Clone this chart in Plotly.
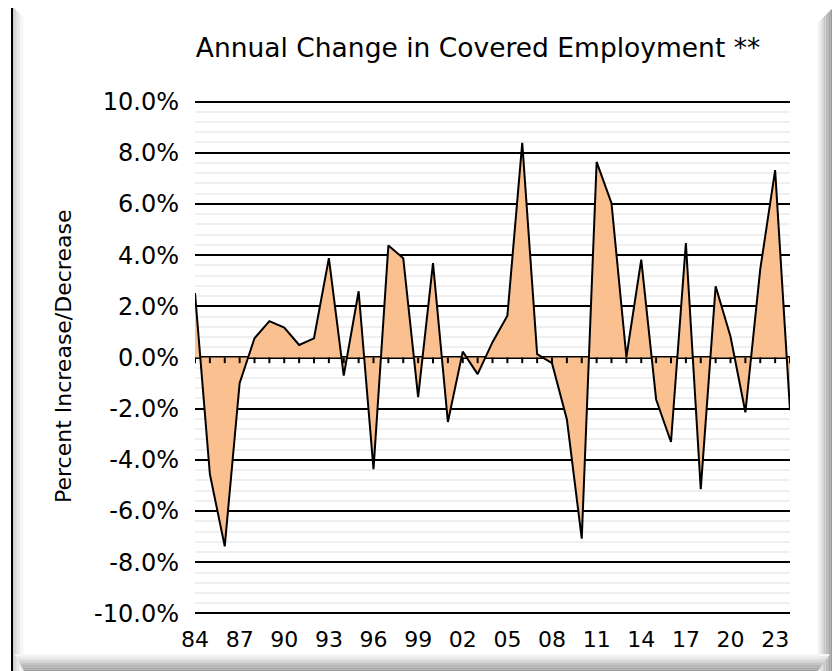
import plotly.graph_objects as go

years = list(range(1984, 2025))
pct_change = [2.52, -4.56, -7.38, -1.00, 0.75, 1.42, 1.17, 0.49, 0.75, 3.88,
              -0.71, 2.59, -4.36, 4.38, 3.88, -1.55, 3.69, -2.52, 0.23, -0.65,
              0.60, 1.63, 8.39, 0.13, -0.22, -2.42, -7.08, 7.64, 6.03, 0.02,
              3.82, -1.64, -3.30, 4.47, -5.14, 2.78, 0.82, -2.14, 3.45, 7.32,
              -2.06]
tick_years = list(range(1984, 2024, 3))
tick_labels = [str(y)[2:] for y in tick_years]
y_ticks = [-10, -8, -6, -4, -2, 0, 2, 4, 6, 8, 10]
y_tick_labels = [f"{v:.1f}%" for v in y_ticks]

# page has an 8px body margin; work in screen coordinates and shift
OFF = 8
SW, SH = 840, 671
W, H = SW - OFF, SH - OFF
L, R, T, B = 195, 790, 100, 615   # plot area in screen px


def px(x):
    return (x - L) / (R - L)


def py(y):
    return (B - y) / (B - T)


FONT = "DejaVu Sans"

fig = go.Figure()

fig.add_trace(go.Scatter(
    x=years, y=pct_change, mode="lines", fill="tozeroy",
    fillcolor="#FAC08F", line=dict(color="black", width=2),
    hoverinfo="x+y", showlegend=False))

# small tick marks on the zero line
tx, ty = [], []
for yr in years:
    tx += [yr, yr, None]
    ty += [0, -0.22, None]
fig.add_trace(go.Scatter(x=tx, y=ty, mode="lines",
                         line=dict(color="black", width=2),
                         hoverinfo="skip", showlegend=False))

shapes = []
# frame: outer black line
shapes.append(dict(type="rect", xref="paper", yref="paper",
                   x0=px(12), x1=px(833), y0=py(690), y1=py(7),
                   line=dict(color="black", width=2), fillcolor="white",
                   layer="below"))
# left bevel (light grey gradient)
left_greys = ["#c8c8c8", "#d4d4d4", "#dedede", "#e6e6e6", "#ededed", "#f3f3f3", "#f8f8f8"]
for i, c in enumerate(left_greys):
    shapes.append(dict(type="rect", xref="paper", yref="paper",
                       x0=px(13 + i * 1.5), x1=px(14.5 + i * 1.5),
                       y0=py(690), y1=py(8 + i * 1.5),
                       line=dict(width=0), fillcolor=c, layer="below"))
# right bevel (darker grey gradient)
right_greys = ["#9a9a9a", "#a4a4a4", "#afafaf", "#bababa", "#c6c6c6", "#d2d2d2", "#dedede", "#eaeaea", "#f4f4f4"]
for i, c in enumerate(right_greys):
    shapes.append(dict(type="rect", xref="paper", yref="paper",
                       x0=px(832 - (i + 1) * 1.6), x1=px(832 - i * 1.6),
                       y0=py(690), y1=py(8 + (i + 1) * 1.6),
                       line=dict(width=0), fillcolor=c, layer="below"))
# bottom bevel
bottom_greys = ["#f6f6f6", "#ececec", "#e0e0e0", "#d2d2d2", "#c4c4c4", "#b6b6b6", "#a8a8a8", "#9c9c9c"]
for i, c in enumerate(bottom_greys):
    y0 = 654 + i * 2.2
    shapes.append(dict(type="rect", xref="paper", yref="paper",
                       x0=px(14 + (i + 1) * 1.2), x1=px(831 - (i + 1) * 1.6),
                       y0=py(y0 + 2.2), y1=py(y0),
                       line=dict(width=0), fillcolor=c, layer="below"))
shapes.append(dict(type="rect", xref="paper", yref="paper",
                   x0=px(24), x1=px(818), y0=py(690), y1=py(671.5),
                   line=dict(width=0), fillcolor="#999999", layer="below"))

fig.update_layout(
    width=W, height=H,
    margin=dict(l=L - OFF, r=W - (R - OFF), t=T - OFF, b=H - (B - OFF), pad=0),
    paper_bgcolor="white", plot_bgcolor="white",
    font=dict(family=FONT, color="black"),
    title=dict(text="Annual Change in Covered Employment **",
               font=dict(family=FONT, size=26.5, color="black"),
               x=px(478), xref="paper", xanchor="center",
               y=1 - (48 - OFF) / H, yref="container", yanchor="middle"),
    shapes=shapes,
    annotations=[dict(text="Percent Increase/Decrease", textangle=-90,
                      xref="paper", yref="paper", x=px(63), y=py(357),
                      xanchor="center", yanchor="middle", showarrow=False,
                      font=dict(family=FONT, size=22, color="black"))],
    xaxis=dict(range=[1984, 2024], tickmode="array", tickvals=tick_years,
               ticktext=tick_labels, showgrid=False, zeroline=False,
               showline=False, ticks="", ticklabelstandoff=9,
               tickfont=dict(family=FONT, size=22, color="black")),
    yaxis=dict(range=[-10.06, 10.06], tickmode="array", tickvals=y_ticks,
               ticktext=y_tick_labels, showgrid=True, gridcolor="black",
               gridwidth=2, zeroline=True, zerolinecolor="black",
               zerolinewidth=3, showline=False, ticks="",
               ticklabelstandoff=15,
               tickfont=dict(family=FONT, size=24, color="black"),
               minor=dict(tickmode="linear", tick0=0, dtick=0.4, showgrid=True,
                          gridcolor="#efefef", gridwidth=2)),
)

fig.write_html("out.html")
